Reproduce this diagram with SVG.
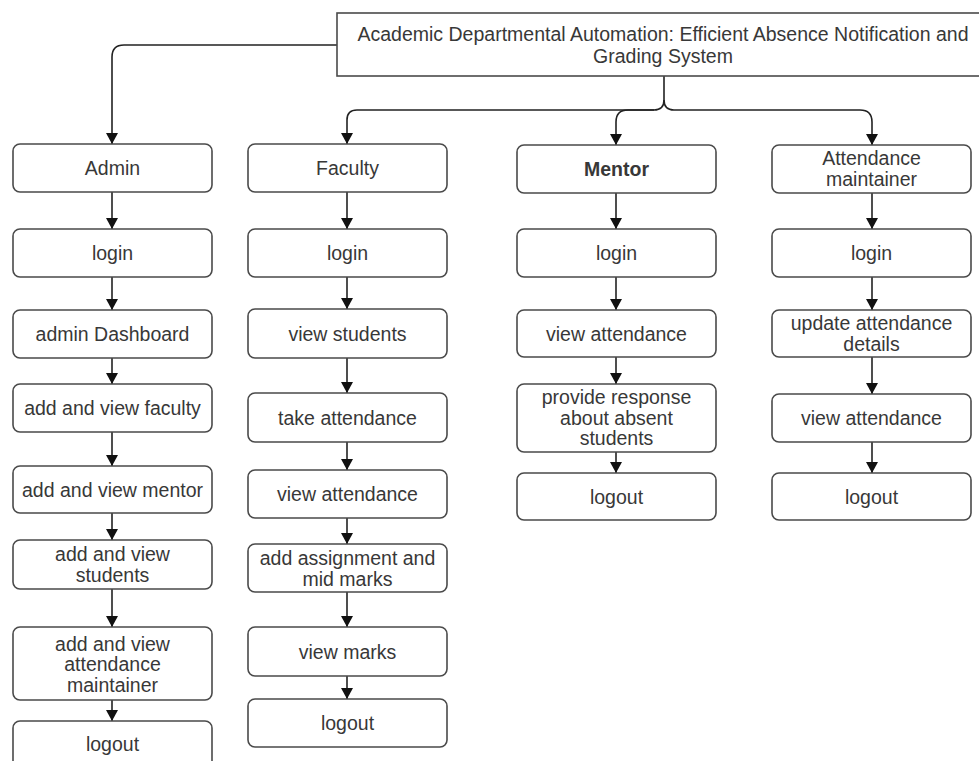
<svg xmlns="http://www.w3.org/2000/svg" width="979" height="761" viewBox="0 0 979 761">
<style>
.box{fill:#fff;stroke:#4a4a4a;stroke-width:1.6}
.t{font-family:"Liberation Sans",Arial,sans-serif;font-size:19.5px;fill:#383838;text-anchor:middle}
.b{font-weight:bold}
.c{fill:none;stroke:#222;stroke-width:1.6}
</style>
<defs>
<marker id="ah" markerUnits="userSpaceOnUse" markerWidth="13" markerHeight="13" refX="11" refY="6" orient="auto" viewBox="0 0 13 12">
<path d="M0,0 L11,6 L0,12 z" fill="#111"/>
</marker>
</defs>
<rect width="979" height="761" fill="#fff"/>

<g id="connectors" class="c" marker-end="url(#ah)">
<path d="M337,45 H124 Q112,45 112,57 V144"/>
<path d="M664,76 V100 Q664,110 654,110 H357 Q347,110 347,120 V144"/>
<path d="M654,110 H628 Q616,110 616,122 V145"/>
<path d="M664,100 Q664,110 674,110 H860 Q872,110 872,122 V145"/>
<path d="M112,192 V229"/>
<path d="M112,277 V310"/>
<path d="M112,358 V384"/>
<path d="M112,432 V466"/>
<path d="M112,513 V540"/>
<path d="M112,589 V627"/>
<path d="M112,700 V721"/>
<path d="M347,192 V229"/>
<path d="M347,277 V309"/>
<path d="M347,358 V393"/>
<path d="M347,442 V470"/>
<path d="M347,518 V544"/>
<path d="M347,592 V627"/>
<path d="M347,676 V699"/>
<path d="M616,193 V229"/>
<path d="M616,277 V310"/>
<path d="M616,357 V384"/>
<path d="M616,452 V473"/>
<path d="M872,193 V229"/>
<path d="M872,277 V310"/>
<path d="M872,357 V394"/>
<path d="M872,442 V473"/>
</g>

<g id="title"><rect class="box" x="337" y="13" width="660" height="63"/>
<text class="t" x="663" y="40.5">Academic Departmental Automation: Efficient Absence Notification and</text>
<text class="t" x="663" y="62.5">Grading System</text></g>

<g id="admin"><rect class="box" x="13" y="144" width="199" height="48" rx="7"/><text class="t" x="112.5" y="175">Admin</text></g>
<g id="admin-login"><rect class="box" x="13" y="229" width="199" height="48" rx="7"/><text class="t" x="112.5" y="260">login</text></g>
<g id="admin-dashboard"><rect class="box" x="13" y="310" width="199" height="48" rx="7"/><text class="t" x="112.5" y="341">admin Dashboard</text></g>
<g id="admin-faculty"><rect class="box" x="13" y="384" width="199" height="48" rx="7"/><text class="t" x="112.5" y="415">add and view faculty</text></g>
<g id="admin-mentor"><rect class="box" x="13" y="466" width="199" height="47" rx="7"/><text class="t" x="112.5" y="496.5">add and view mentor</text></g>
<g id="admin-students"><rect class="box" x="13" y="540" width="199" height="49" rx="7"/><text class="t" x="112.5" y="561">add and view</text><text class="t" x="112.5" y="582">students</text></g>
<g id="admin-maintainer"><rect class="box" x="13" y="627" width="199" height="73" rx="7"/><text class="t" x="112.5" y="650.5">add and view</text><text class="t" x="112.5" y="671">attendance</text><text class="t" x="112.5" y="691.5">maintainer</text></g>
<g id="admin-logout"><rect class="box" x="13" y="721" width="199" height="49" rx="7"/><text class="t" x="112.5" y="751">logout</text></g>

<g id="faculty"><rect class="box" x="248" y="144" width="199" height="48" rx="7"/><text class="t" x="347.5" y="175">Faculty</text></g>
<g id="faculty-login"><rect class="box" x="248" y="229" width="199" height="48" rx="7"/><text class="t" x="347.5" y="260">login</text></g>
<g id="faculty-students"><rect class="box" x="248" y="309" width="199" height="49" rx="7"/><text class="t" x="347.5" y="340.5">view students</text></g>
<g id="faculty-take"><rect class="box" x="248" y="393" width="199" height="49" rx="7"/><text class="t" x="347.5" y="424.5">take attendance</text></g>
<g id="faculty-view"><rect class="box" x="248" y="470" width="199" height="48" rx="7"/><text class="t" x="347.5" y="501">view attendance</text></g>
<g id="faculty-marks-add"><rect class="box" x="248" y="544" width="199" height="48" rx="7"/><text class="t" x="347.5" y="564.5">add assignment and</text><text class="t" x="347.5" y="585.5">mid marks</text></g>
<g id="faculty-marks-view"><rect class="box" x="248" y="627" width="199" height="49" rx="7"/><text class="t" x="347.5" y="658.5">view marks</text></g>
<g id="faculty-logout"><rect class="box" x="248" y="699" width="199" height="48" rx="7"/><text class="t" x="347.5" y="730">logout</text></g>

<g id="mentor"><rect class="box" x="517" y="145" width="199" height="48" rx="7"/><text class="t b" x="616.5" y="176">Mentor</text></g>
<g id="mentor-login"><rect class="box" x="517" y="229" width="199" height="48" rx="7"/><text class="t" x="616.5" y="260">login</text></g>
<g id="mentor-view"><rect class="box" x="517" y="310" width="199" height="47" rx="7"/><text class="t" x="616.5" y="340.5">view attendance</text></g>
<g id="mentor-response"><rect class="box" x="517" y="384" width="199" height="68" rx="7"/><text class="t" x="616.5" y="404">provide response</text><text class="t" x="616.5" y="424.5">about absent</text><text class="t" x="616.5" y="445">students</text></g>
<g id="mentor-logout"><rect class="box" x="517" y="473" width="199" height="47" rx="7"/><text class="t" x="616.5" y="503.5">logout</text></g>

<g id="maintainer"><rect class="box" x="772" y="145" width="199" height="48" rx="7"/><text class="t" x="871.5" y="165">Attendance</text><text class="t" x="871.5" y="185.5">maintainer</text></g>
<g id="maintainer-login"><rect class="box" x="772" y="229" width="199" height="48" rx="7"/><text class="t" x="871.5" y="260">login</text></g>
<g id="maintainer-update"><rect class="box" x="772" y="310" width="199" height="47" rx="7"/><text class="t" x="871.5" y="330">update attendance</text><text class="t" x="871.5" y="351">details</text></g>
<g id="maintainer-view"><rect class="box" x="772" y="394" width="199" height="48" rx="7"/><text class="t" x="871.5" y="425">view attendance</text></g>
<g id="maintainer-logout"><rect class="box" x="772" y="473" width="199" height="47" rx="7"/><text class="t" x="871.5" y="503.5">logout</text></g>
</svg>
